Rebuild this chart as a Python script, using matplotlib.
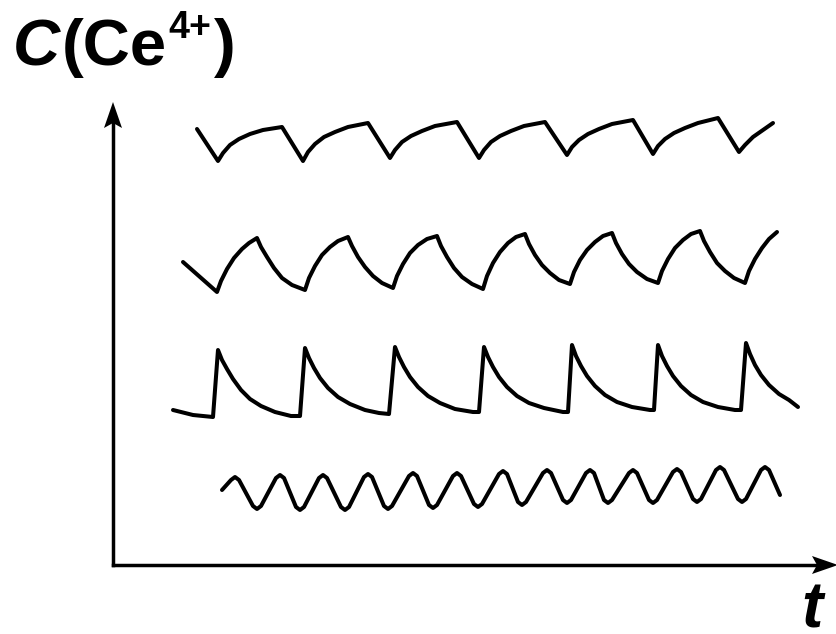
import matplotlib
matplotlib.use("Agg")
import matplotlib.pyplot as plt
from matplotlib.patches import Polygon

# ── traces (t, C) in arbitrary units, origin at the axis corner ────────────
# top: slow charge, fast drop
T1_t = [84, 105, 110, 117, 126, 137, 150, 169,
        190, 195, 202, 211, 222, 235, 255,
        277, 282, 289, 298, 309, 322, 344,
        366, 371, 378, 387, 398, 411, 432,
        454, 459, 466, 475, 486, 499, 520,
        540, 545, 552, 561, 572, 585, 605,
        626, 632, 640, 650, 660]
T1_c = [436, 404, 412, 420, 426, 431, 435, 438,
        404, 413, 421, 428, 433, 438, 442,
        407, 415, 423, 429, 434, 439, 443,
        407, 415, 423, 429, 434, 439, 443,
        410, 418, 425, 431, 436, 441, 445,
        411, 419, 426, 432, 437, 442, 447,
        413, 420, 428, 435, 442]

# second: rise and decay of similar length
T2_t = [70, 104, 108, 114, 121, 129, 136, 144, 148, 154, 161, 169, 179, 192,
        196, 202, 209, 217, 225, 235, 239, 245, 252, 260, 269, 280,
        284, 290, 297, 305, 314, 324, 328, 334, 341, 349, 359, 370,
        374, 380, 387, 395, 403, 412, 416, 422, 429, 437, 446, 457,
        461, 467, 474, 482, 490, 499, 503, 509, 516, 524, 534, 545,
        549, 555, 562, 570, 578, 587, 591, 597, 604, 612, 621, 632,
        636, 642, 649, 656, 664]
T2_c = [303, 273, 284, 296, 307, 316, 322, 327, 318, 308, 297, 287, 280, 275,
        287, 299, 310, 318, 324, 328, 319, 308, 298, 289, 282, 277,
        289, 301, 312, 320, 326, 329, 319, 308, 297, 288, 281, 276,
        289, 302, 313, 322, 328, 331, 321, 310, 300, 292, 285, 281,
        293, 305, 315, 323, 329, 332, 322, 311, 301, 293, 286, 282,
        294, 306, 317, 325, 331, 334, 324, 313, 302, 294, 287, 282,
        294, 306, 317, 326, 333]

# third: relaxation spikes
T3_t = [60, 80, 100, 105, 109, 114, 120, 128, 137, 148, 162, 178, 187,
        192, 196, 201, 207, 215, 225, 237, 252, 266, 276,
        282, 286, 291, 297, 305, 315, 327, 342, 360, 366,
        371, 375, 380, 386, 394, 404, 416, 431, 450, 455,
        459, 463, 468, 474, 482, 492, 504, 519, 537, 541,
        545, 549, 554, 560, 568, 578, 590, 605, 622, 628,
        633, 637, 642, 648, 656, 666, 676, 685]
T3_c = [155, 150, 148, 215, 205, 196, 186, 175, 166, 159, 153, 149, 149,
        217, 207, 197, 187, 177, 168, 161, 155, 152, 151,
        218, 208, 198, 188, 178, 169, 162, 156, 153, 153,
        218, 208, 198, 188, 178, 169, 162, 157, 153, 153,
        220, 209, 199, 189, 179, 170, 163, 158, 155, 155,
        220, 209, 199, 189, 179, 170, 163, 158, 155, 155,
        222, 211, 200, 190, 180, 171, 165, 158]

# bottom: small fast harmonic oscillation
T4_t = [109, 118, 122, 126, 140, 144, 148, 163, 167, 171, 183, 187, 191,
        206, 210, 214, 228, 232, 236, 251, 255, 259, 271, 275, 279,
        296, 300, 304, 316, 320, 324, 340, 344, 348, 361, 365, 369,
        386, 390, 394, 405, 409, 413, 430, 434, 438, 450, 454, 458,
        473, 477, 481, 491, 495, 499, 516, 520, 524, 536, 540, 544,
        560, 564, 568, 580, 584, 588, 603, 607, 611, 625, 629, 633,
        648, 652, 656, 667]
T4_c = [75, 85, 88, 85, 59, 56, 59, 87, 90, 87, 58, 55, 58,
        87, 90, 87, 58, 55, 58, 88, 91, 88, 59, 56, 59,
        89, 92, 89, 60, 57, 60, 89, 92, 89, 61, 58, 61,
        91, 94, 91, 63, 60, 63, 92, 95, 92, 65, 62, 65,
        92, 95, 92, 65, 62, 65, 92, 95, 92, 65, 62, 65,
        93, 96, 93, 66, 63, 66, 95, 98, 95, 66, 63, 66,
        95, 98, 95, 70]

Y_LABEL = "C"
Y_SPECIES = "(Ce"
Y_CHARGE = "4+"
X_LABEL = "t"

INK = "#000000"
FONT = "Liberation Sans"

W, H = 836, 634
fig = plt.figure(figsize=(W / 100, H / 100), dpi=100)
ax = fig.add_axes([0, 0, 1, 1])
ax.set_xlim(-113, W - 113)
ax.set_ylim(565 - H, 565)
ax.axis("off")

for tt, cc in [(T1_t, T1_c), (T2_t, T2_c), (T3_t, T3_c), (T4_t, T4_c)]:
    ax.plot(tt, cc, color=INK, lw=2.9, solid_joinstyle="round",
            solid_capstyle="round")

# ── axes with stealth arrow heads ──────────────────────────────────────────
AX_LW = 2.5
ax.plot([0, 0], [0, 445], color=INK, lw=AX_LW, solid_capstyle="projecting")
ax.plot([0, 706], [0, 0], color=INK, lw=AX_LW, solid_capstyle="projecting")
ax.add_patch(Polygon([(0, 463), (-9, 437), (0, 442), (9, 437)],
                     closed=True, color=INK, lw=0))
ax.add_patch(Polygon([(725, 0), (699, 9), (704, 0), (699, -9)],
                     closed=True, color=INK, lw=0, clip_on=False))

# ── labels ─────────────────────────────────────────────────────────────────
renderer = fig.canvas.get_renderer()


def put(s, x, y, **kw):
    t = ax.text(x, y, s, va="baseline", ha="left", family=FONT,
                weight="bold", color=INK, **kw)
    bb = t.get_window_extent(renderer)
    return ax.transData.inverted().transform((bb.x1, bb.y0))[0]


BASE = 500
x = put(Y_LABEL, -100, BASE, size=47, style="italic")
x = put(Y_SPECIES, x + 2, BASE, size=47)
x = put(Y_CHARGE, x + 1, BASE + 27, size=27)
put(")", x + 3, BASE, size=47)

ax.text(688, -63, X_LABEL, va="baseline", ha="left", family=FONT,
        weight="bold", style="italic", size=46, color=INK)

fig.savefig("out.png", dpi=100, facecolor="white")
